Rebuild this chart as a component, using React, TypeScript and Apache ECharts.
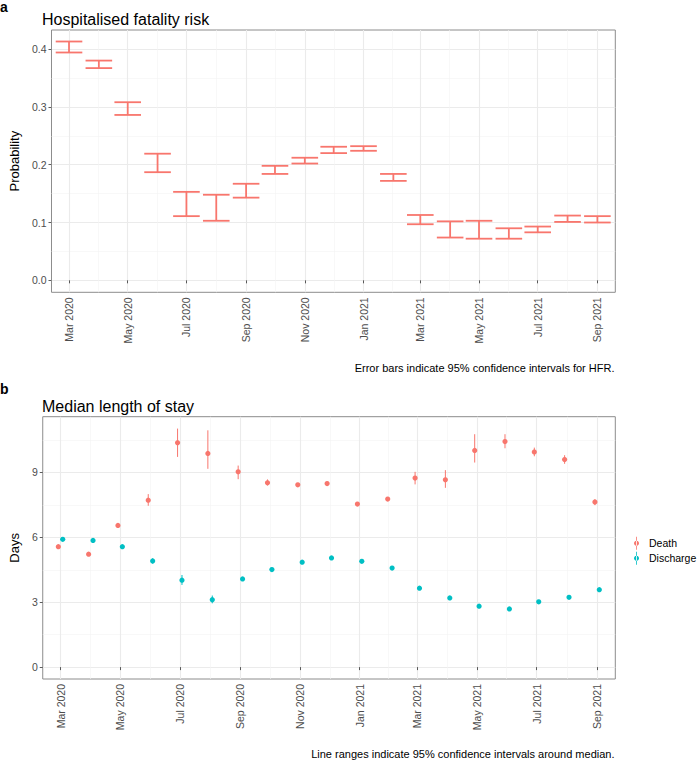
import React, { useEffect, useRef } from "react";
import * as echarts from "echarts";

// ---------- data ----------
const months = [
  "2020-03-01", "2020-04-01", "2020-05-01", "2020-06-01", "2020-07-01", "2020-08-01",
  "2020-09-01", "2020-10-01", "2020-11-01", "2020-12-01", "2021-01-01", "2021-02-01",
  "2021-03-01", "2021-04-01", "2021-05-01", "2021-06-01", "2021-07-01", "2021-08-01",
  "2021-09-01",
];

const hfrLower = [0.394, 0.367, 0.286, 0.187, 0.111, 0.103, 0.143, 0.184, 0.202, 0.220,
  0.224, 0.172, 0.097, 0.074, 0.072, 0.072, 0.083, 0.101, 0.100];
const hfrUpper = [0.413, 0.380, 0.308, 0.219, 0.153, 0.148, 0.167, 0.198, 0.212, 0.231,
  0.232, 0.184, 0.113, 0.102, 0.103, 0.090, 0.093, 0.112, 0.111];

const deathMedian = [5.57, 5.22, 6.55, 7.72, 10.38, 9.88, 9.03, 8.52, 8.43, 8.49,
  7.54, 7.77, 8.74, 8.66, 10.02, 10.43, 9.95, 9.60, 7.63];
const deathLower = [5.50, 5.15, 6.47, 7.46, 9.72, 9.17, 8.69, 8.40, 8.35, 8.41,
  7.47, 7.69, 8.45, 8.29, 9.46, 10.12, 9.75, 9.40, 7.49];
const deathUpper = [5.64, 5.29, 6.63, 8.00, 11.03, 10.95, 9.32, 8.68, 8.51, 8.57,
  7.61, 7.85, 9.03, 9.11, 10.77, 10.77, 10.15, 9.80, 7.77];

const dischargeMedian = [5.91, 5.86, 5.57, 4.91, 4.02, 3.12, 4.08, 4.51, 4.85, 5.05,
  4.89, 4.58, 3.65, 3.20, 2.82, 2.69, 3.02, 3.23, 3.58];
const dischargeLower = [5.86, 5.81, 5.52, 4.78, 3.80, 2.95, 4.02, 4.46, 4.80, 5.00,
  4.84, 4.53, 3.60, 3.15, 2.77, 2.64, 2.97, 3.18, 3.53];
const dischargeUpper = [5.96, 5.91, 5.62, 5.03, 4.26, 3.31, 4.14, 4.56, 4.90, 5.10,
  4.94, 4.63, 3.70, 3.25, 2.87, 2.74, 3.07, 3.28, 3.63];

const xTickDates = ["2020-03-01", "2020-05-01", "2020-07-01", "2020-09-01", "2020-11-01",
  "2021-01-01", "2021-03-01", "2021-05-01", "2021-07-01", "2021-09-01"];
const xTickLabels = ["Mar 2020", "May 2020", "Jul 2020", "Sep 2020", "Nov 2020",
  "Jan 2021", "Mar 2021", "May 2021", "Jul 2021", "Sep 2021"];

const hfrTicks = [0, 0.1, 0.2, 0.3, 0.4];
const hfrTickLabels = ["0.0", "0.1", "0.2", "0.3", "0.4"];
const hfrMinor = [0.05, 0.15, 0.25, 0.35];
const losTicks = [0, 3, 6, 9];
const losMinor = [1.5, 4.5, 7.5, 10.5];

const hfrRange = [-0.0207, 0.4329];
const losRange = [-0.55, 11.58];

// ---------- helpers ----------
const DAY = 86400000;
const ts = (s: string) => new Date(s + "T00:00:00Z").getTime();
const xTicksTs = xTickDates.map(ts);
const xMinorTs = xTicksTs.slice(1).map((t, i) => (t + xTicksTs[i]) / 2);
const xMin = ts(months[0]) - 18.2 * DAY;
const xMax = ts(months[months.length - 1]) + 18.6 * DAY;

const RED = "#F8766D";
const CYAN = "#00BFC4";
const FONT = "Liberation Sans, Arial, Helvetica, sans-serif";
const LABEL_COL = "#4D4D4D";

export default function App() {
  const ref = useRef<HTMLDivElement>(null);

  useEffect(() => {
    document.body.style.margin = "0";
    if (!ref.current) return;
    const chart = echarts.init(ref.current, null, { renderer: "svg" });

    const majorX = (gridIndex: number) => ({
      type: "value",
      gridIndex,
      min: xMin,
      max: xMax,
      axisLine: { show: false },
      axisTick: {
        show: true,
        length: 3,
        customValues: xTicksTs,
        lineStyle: { color: "#333333", width: 0.8 },
      },
      axisLabel: {
        customValues: xTicksTs,
        rotate: 90,
        margin: 5,
        fontSize: 10.5,
        color: LABEL_COL,
        fontFamily: FONT,
        formatter: (v: number) => {
          const i = xTicksTs.findIndex((t) => Math.abs(t - v) < 1000);
          return i >= 0 ? xTickLabels[i] : "";
        },
      },
      splitLine: { show: true, lineStyle: { color: "#EBEBEB", width: 1.1 } },
    });
    const minorX = (gridIndex: number) => ({
      type: "value",
      gridIndex,
      min: xMin,
      max: xMax,
      axisLine: { show: false },
      axisTick: { show: false, customValues: xMinorTs },
      axisLabel: { show: false },
      splitLine: { show: true, lineStyle: { color: "#F4F4F4", width: 0.6 } },
    });
    const majorY = (gridIndex: number, range: number[], ticks: number[], labels: string[] | null, name: string) => ({
      type: "value",
      gridIndex,
      min: range[0],
      max: range[1],
      name,
      nameLocation: "middle",
      nameGap: 21,
      nameTextStyle: { fontSize: 13, color: "#000000", fontFamily: FONT },
      axisLine: { show: false },
      axisTick: {
        show: true,
        length: 3,
        customValues: ticks,
        lineStyle: { color: "#333333", width: 0.8 },
      },
      axisLabel: {
        customValues: ticks,
        margin: 5,
        fontSize: 10.5,
        color: LABEL_COL,
        fontFamily: FONT,
        formatter: (v: number) => {
          if (!labels) return String(Math.round(v));
          const i = ticks.findIndex((t) => Math.abs(t - v) < 1e-9);
          return i >= 0 ? labels[i] : "";
        },
      },
      splitLine: { show: true, lineStyle: { color: "#EBEBEB", width: 1.1 } },
    });
    const minorY = (gridIndex: number, range: number[], ticks: number[]) => ({
      type: "value",
      gridIndex,
      min: range[0],
      max: range[1],
      axisLine: { show: false },
      axisTick: { show: false, customValues: ticks },
      axisLabel: { show: false },
      splitLine: { show: true, lineStyle: { color: "#F4F4F4", width: 0.6 } },
    });

    const errorBarItem = (params: any, api: any) => {
      const x = api.value(0);
      const lo = api.coord([x, api.value(1)]);
      const hi = api.coord([x, api.value(2)]);
      const hw = 13.3;
      const style = { stroke: RED, lineWidth: 1.8 };
      return {
        type: "group",
        children: [
          { type: "line", shape: { x1: lo[0], y1: lo[1], x2: hi[0], y2: hi[1] }, style },
          { type: "line", shape: { x1: lo[0] - hw, y1: lo[1], x2: lo[0] + hw, y2: lo[1] }, style },
          { type: "line", shape: { x1: hi[0] - hw, y1: hi[1], x2: hi[0] + hw, y2: hi[1] }, style },
        ],
      };
    };

    const pointRange = (color: string, dx: number) => (params: any, api: any) => {
      const x = api.value(0);
      const mid = api.coord([x, api.value(1)]);
      const lo = api.coord([x, api.value(2)]);
      const hi = api.coord([x, api.value(3)]);
      return {
        type: "group",
        children: [
          {
            type: "line",
            shape: { x1: lo[0] + dx, y1: lo[1], x2: hi[0] + dx, y2: hi[1] },
            style: { stroke: color, lineWidth: 1 },
          },
          {
            type: "circle",
            shape: { cx: mid[0] + dx, cy: mid[1], r: 2.6 },
            style: { fill: color },
          },
        ],
      };
    };

    const legendIcon =
      "path://M2.1,0h0.8v13h-0.8z M2.5,4 a2.5,2.5 0 1,0 0.001,0z";

    const option: any = {
      animation: false,
      textStyle: { fontFamily: FONT },
      title: [
        { text: "a", left: 0, top: 0, padding: 0, textStyle: { fontSize: 14, fontWeight: "bold", color: "#000", fontFamily: FONT } },
        { text: "Hospitalised fatality risk", left: 42, top: 11, padding: 0, textStyle: { fontSize: 16, fontWeight: "normal", color: "#000", fontFamily: FONT } },
        { text: "b", left: 0, top: 382, padding: 0, textStyle: { fontSize: 14, fontWeight: "bold", color: "#000", fontFamily: FONT } },
        { text: "Median length of stay", left: 42, top: 398, padding: 0, textStyle: { fontSize: 16, fontWeight: "normal", color: "#000", fontFamily: FONT } },
      ],
      grid: [
        { left: 42.7, top: 30, width: 572.6, height: 262.3, show: true, borderColor: "#8C8C8C", borderWidth: 1, backgroundColor: "transparent" },
        { left: 42.7, top: 416.7, width: 572.6, height: 262.3, show: true, borderColor: "#8C8C8C", borderWidth: 1, backgroundColor: "transparent" },
      ],
      xAxis: [majorX(0), minorX(0), majorX(1), minorX(1)],
      yAxis: [
        majorY(0, hfrRange, hfrTicks, hfrTickLabels, "Probability"),
        minorY(0, hfrRange, hfrMinor),
        majorY(1, losRange, losTicks, null, "Days"),
        minorY(1, losRange, losMinor),
      ],
      legend: {
        orient: "vertical",
        left: 634,
        top: 536.8,
        padding: 0,
        itemWidth: 5,
        itemHeight: 13,
        itemGap: 2,
        textStyle: { fontSize: 10.5, color: "#000", fontFamily: FONT, padding: [0, 0, 0, 5] },
        data: [
          { name: "Death", icon: legendIcon, itemStyle: { color: RED } },
          { name: "Discharge", icon: legendIcon, itemStyle: { color: CYAN } },
        ],
      },
      graphic: [
        {
          type: "text",
          x: 614.5,
          y: 367.7,
          style: { text: "Error bars indicate 95% confidence intervals for HFR.", fontSize: 11, fontFamily: FONT, fill: "#000", textAlign: "right", textVerticalAlign: "middle" },
        },
        {
          type: "text",
          x: 614.5,
          y: 754,
          style: { text: "Line ranges indicate 95% confidence intervals around median.", fontSize: 11, fontFamily: FONT, fill: "#000", textAlign: "right", textVerticalAlign: "middle" },
        },
      ],
      series: [
        {
          name: "HFR",
          type: "custom",
          xAxisIndex: 0,
          yAxisIndex: 0,
          renderItem: errorBarItem,
          encode: { x: 0, y: [1, 2] },
          data: months.map((m, i) => [ts(m), hfrLower[i], hfrUpper[i]]),
          itemStyle: { color: RED },
        },
        {
          name: "Death",
          type: "custom",
          xAxisIndex: 2,
          yAxisIndex: 2,
          renderItem: pointRange(RED, -2.2),
          encode: { x: 0, y: [1, 2, 3] },
          data: months.map((m, i) => [ts(m), deathMedian[i], deathLower[i], deathUpper[i]]),
          itemStyle: { color: RED },
        },
        {
          name: "Discharge",
          type: "custom",
          xAxisIndex: 2,
          yAxisIndex: 2,
          renderItem: pointRange(CYAN, 2.2),
          encode: { x: 0, y: [1, 2, 3] },
          data: months.map((m, i) => [ts(m), dischargeMedian[i], dischargeLower[i], dischargeUpper[i]]),
          itemStyle: { color: CYAN },
        },
      ],
    };

    chart.setOption(option);
    return () => chart.dispose();
  }, []);

  return <div ref={ref} style={{ width: 698, height: 760 }} />;
}
